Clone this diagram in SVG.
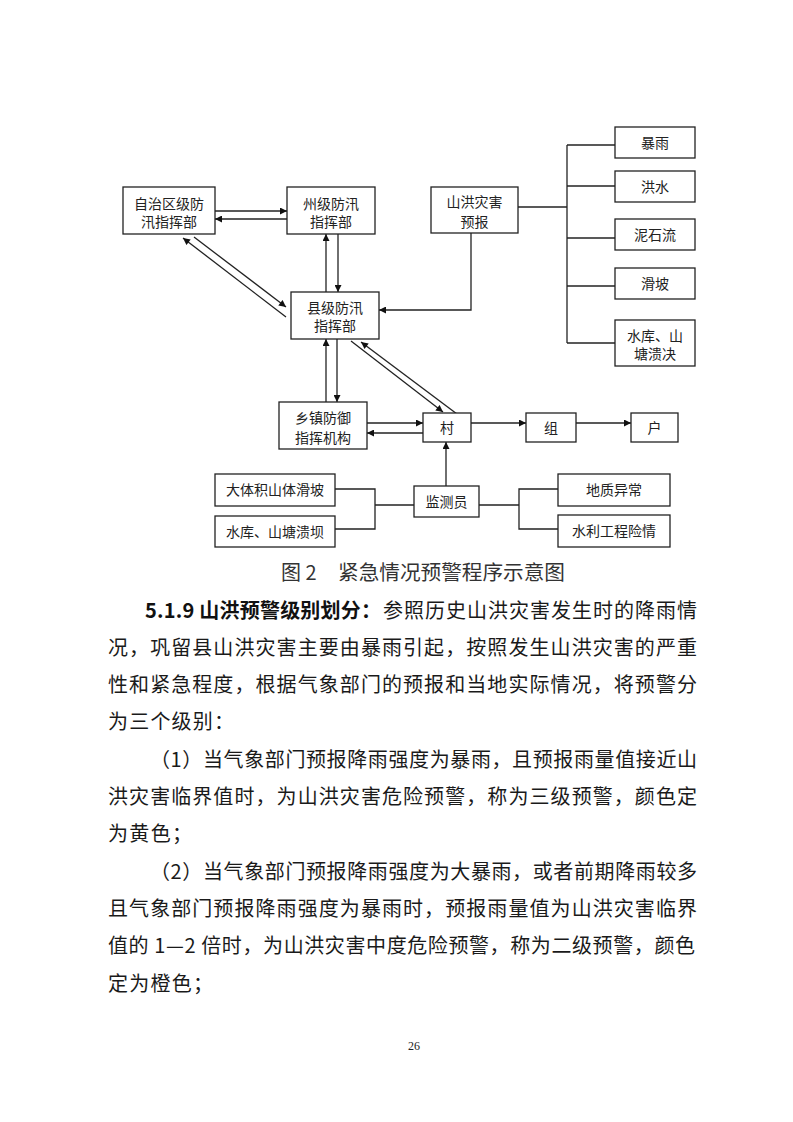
<svg xmlns="http://www.w3.org/2000/svg" width="793" height="1122" viewBox="0 0 793 1122">
<defs>
<marker id="ah" viewBox="0 0 10 10" refX="10" refY="5" markerWidth="9" markerHeight="7" markerUnits="userSpaceOnUse" orient="auto">
<path d="M0,0 L10,5 L0,10 z" fill="#111"/>
</marker>
</defs>
<style>
.box{fill:#fff;stroke:#222;stroke-width:1.3}
.nt{font-family:"Noto Sans CJK SC","Noto Sans",sans-serif;font-size:14px;fill:#222;text-anchor:middle}
.ln{fill:none;stroke:#222;stroke-width:1.3}
.ar{fill:none;stroke:#222;stroke-width:1.3;marker-end:url(#ah)}
.bt{font-family:"Noto Sans CJK SC","Noto Sans",sans-serif;font-size:20px;fill:#1a1a1a}
.bb{font-family:"Noto Sans CJK SC","Noto Sans",sans-serif;font-size:20px;font-weight:bold;fill:#111}
.cap{font-family:"Noto Sans CJK SC","Noto Sans",sans-serif;font-size:20px;fill:#333}
</style>
<rect width="793" height="1122" fill="#fff"/>

<g id="connectors">
<line class="ar" x1="215" y1="211" x2="287" y2="211"/>
<line class="ar" x1="287" y1="219" x2="215" y2="219"/>
<line class="ar" x1="326" y1="292" x2="326" y2="234"/>
<line class="ar" x1="338" y1="234" x2="338" y2="292"/>
<line class="ar" x1="194" y1="237" x2="286" y2="307"/>
<line class="ar" x1="286" y1="317" x2="183" y2="238"/>
<polyline class="ar" points="471,233 471,310 379,310"/>
<polyline class="ln" points="518,207 567,207"/>
<line class="ln" x1="567" y1="145" x2="567" y2="343"/>
<line class="ln" x1="567" y1="145" x2="615" y2="145"/>
<line class="ln" x1="567" y1="186" x2="615" y2="186"/>
<line class="ln" x1="567" y1="238" x2="615" y2="238"/>
<line class="ln" x1="567" y1="286" x2="615" y2="286"/>
<line class="ln" x1="567" y1="343" x2="615" y2="343"/>
<line class="ar" x1="326" y1="402" x2="326" y2="339"/>
<line class="ar" x1="337" y1="339" x2="337" y2="402"/>
<line class="ar" x1="351" y1="341" x2="443" y2="412"/>
<line class="ar" x1="457" y1="414" x2="361" y2="342"/>
<line class="ar" x1="367" y1="423" x2="423" y2="423"/>
<line class="ar" x1="423" y1="433" x2="367" y2="433"/>
<line class="ar" x1="471" y1="423" x2="526" y2="423"/>
<line class="ar" x1="576" y1="423" x2="631" y2="423"/>
<line class="ar" x1="446" y1="486" x2="446" y2="442"/>
<polyline class="ln" points="335,489 375,489 375,529 335,529"/>
<line class="ln" x1="375" y1="505" x2="414" y2="505"/>
<polyline class="ln" points="558,489 519,489 519,529 558,529"/>
<line class="ln" x1="479" y1="505" x2="519" y2="505"/>
</g>

<g id="n-zizhiqu"><rect class="box" x="123" y="187" width="92" height="47"/><text class="nt" x="169" y="209">自治区级防</text><text class="nt" x="169" y="227">汛指挥部</text></g>
<g id="n-zhouji"><rect class="box" x="287" y="187" width="88" height="47"/><text class="nt" x="331" y="209">州级防汛</text><text class="nt" x="331" y="227">指挥部</text></g>
<g id="n-yubao"><rect class="box" x="431" y="187" width="87" height="46"/><text class="nt" x="474.5" y="207">山洪灾害</text><text class="nt" x="474.5" y="227">预报</text></g>
<g id="n-baoyu"><rect class="box" x="615" y="127" width="80" height="31"/><text class="nt" x="655" y="147.5">暴雨</text></g>
<g id="n-hongshui"><rect class="box" x="615" y="171" width="80" height="31"/><text class="nt" x="655" y="191.5">洪水</text></g>
<g id="n-nishiliu"><rect class="box" x="615" y="219" width="80" height="31"/><text class="nt" x="655" y="239.5">泥石流</text></g>
<g id="n-huapo"><rect class="box" x="615" y="268" width="80" height="31"/><text class="nt" x="655" y="288.5">滑坡</text></g>
<g id="n-kuijue"><rect class="box" x="615" y="320" width="80" height="46"/><text class="nt" x="655" y="341">水库、山</text><text class="nt" x="655" y="359">塘溃决</text></g>
<g id="n-xianji"><rect class="box" x="291" y="292" width="88" height="47"/><text class="nt" x="335" y="313">县级防汛</text><text class="nt" x="335" y="331">指挥部</text></g>
<g id="n-xiangzhen"><rect class="box" x="279" y="402" width="88" height="47"/><text class="nt" x="323" y="423">乡镇防御</text><text class="nt" x="323" y="443">指挥机构</text></g>
<g id="n-cun"><rect class="box" x="423" y="413" width="48" height="29"/><text class="nt" x="447" y="432.5">村</text></g>
<g id="n-zu"><rect class="box" x="526" y="413" width="50" height="29"/><text class="nt" x="551" y="432.5">组</text></g>
<g id="n-hu"><rect class="box" x="631" y="413" width="47" height="29"/><text class="nt" x="654.5" y="432.5">户</text></g>
<g id="n-jiance"><rect class="box" x="414" y="486" width="65" height="31"/><text class="nt" x="446.5" y="506.5">监测员</text></g>
<g id="n-dati"><rect class="box" x="215" y="474" width="120" height="32"/><text class="nt" x="275" y="495">大体积山体滑坡</text></g>
<g id="n-kuiba"><rect class="box" x="215" y="516" width="120" height="31"/><text class="nt" x="275" y="536.5">水库、山塘溃坝</text></g>
<g id="n-dizhi"><rect class="box" x="558" y="474" width="112" height="32"/><text class="nt" x="614" y="495">地质异常</text></g>
<g id="n-shuili"><rect class="box" x="558" y="515" width="112" height="32"/><text class="nt" x="614" y="536">水利工程险情</text></g>

<g id="caption">
<text class="cap" x="281" y="580">图 2</text>
<text class="cap" x="338" y="580" textLength="227" lengthAdjust="spacingAndGlyphs">紧急情况预警程序示意图</text>
</g>

<g id="body">
<text class="bb" x="145" y="617.5" textLength="236" lengthAdjust="spacing">5.1.9 山洪预警级别划分：</text>
<text class="bt" x="383" y="617.5" textLength="314" lengthAdjust="spacing">参照历史山洪灾害发生时的降雨情</text>
<text class="bt" x="108" y="654.8" textLength="589" lengthAdjust="spacing">况，巩留县山洪灾害主要由暴雨引起，按照发生山洪灾害的严重</text>
<text class="bt" x="108" y="692.1" textLength="589" lengthAdjust="spacing">性和紧急程度，根据气象部门的预报和当地实际情况，将预警分</text>
<text class="bt" x="108" y="729.4" textLength="126" lengthAdjust="spacing">为三个级别：</text>
<text class="bt" x="150" y="766.7" textLength="547" lengthAdjust="spacing">（1）当气象部门预报降雨强度为暴雨，且预报雨量值接近山</text>
<text class="bt" x="108" y="804" textLength="589" lengthAdjust="spacing">洪灾害临界值时，为山洪灾害危险预警，称为三级预警，颜色定</text>
<text class="bt" x="108" y="841.3" textLength="84" lengthAdjust="spacing">为黄色；</text>
<text class="bt" x="150" y="878.6" textLength="547" lengthAdjust="spacing">（2）当气象部门预报降雨强度为大暴雨，或者前期降雨较多</text>
<text class="bt" x="108" y="915.9" textLength="589" lengthAdjust="spacing">且气象部门预报降雨强度为暴雨时，预报雨量值为山洪灾害临界</text>
<text class="bt" x="108" y="953.2" textLength="587" lengthAdjust="spacing">值的 1—2 倍时，为山洪灾害中度危险预警，称为二级预警，颜色</text>
<text class="bt" x="108" y="990.5" textLength="105" lengthAdjust="spacing">定为橙色；</text>
</g>

<text x="408" y="1050" font-family="Liberation Serif, serif" font-size="12" fill="#222">26</text>
</svg>
